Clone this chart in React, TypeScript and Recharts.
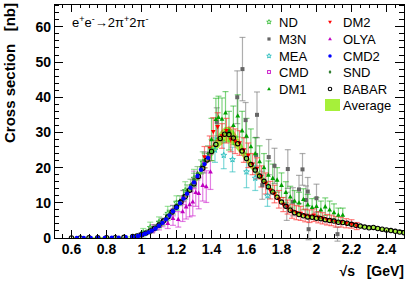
import { ComposedChart, Area, Scatter, ErrorBar, XAxis, YAxis, ReferenceArea } from 'recharts';

// e+e- -> 2pi+2pi- cross section compilation

const W = 415;
const H = 281;
const M_TOP = 4;
const M_RIGHT = 11;
const Y_W = 54;
const X_H = 43;
const PLOT_W = W - Y_W - M_RIGHT;
const PLOT_H = H - M_TOP - X_H;
const FONT = '"Liberation Sans", Arial, Helvetica, sans-serif';

const X_DOMAIN: [number, number] = [0.5, 2.5];
const Y_DOMAIN: [number, number] = [0, 66.5];
const X_LABELS = [0.6, 0.8, 1, 1.2, 1.4, 1.6, 1.8, 2, 2.2, 2.4];
const Y_LABELS = [0, 10, 20, 30, 40, 50, 60];

// average (band) and BABAR share the same energy grid
const avgX = [0.6, 0.65, 0.7, 0.75, 0.8, 0.85, 0.9, 0.95, 0.975, 1.0,
    1.025, 1.05, 1.075, 1.1, 1.125, 1.15, 1.175, 1.2, 1.225, 1.25,
    1.275, 1.3, 1.325, 1.35, 1.375, 1.4, 1.425, 1.45, 1.475, 1.5,
    1.525, 1.55, 1.575, 1.6, 1.625, 1.65, 1.675, 1.7, 1.725, 1.75,
    1.775, 1.8, 1.825, 1.85, 1.875, 1.9, 1.925, 1.95, 1.975, 2.0,
    2.025, 2.05, 2.075, 2.1, 2.125, 2.15, 2.175, 2.2, 2.225, 2.25,
    2.275, 2.3, 2.325, 2.35, 2.375, 2.4, 2.425, 2.45, 2.475, 2.5];
const avgY = [0, 0, 0.05, 0.05, 0.1, 0.1, 0.2, 0.4, 0.6, 0.9,
    1.4, 2.0, 2.8, 3.7, 4.8, 6.0, 7.5, 8.8, 10.2, 11.8,
    13.6, 15.5, 17.5, 19.8, 22.2, 24.5, 26.5, 28.2, 29.3, 29.4,
    28.5, 26.8, 24.8, 22.7, 20.8, 19.2, 17.6, 16.2, 14.7, 13.2,
    11.8, 10.3, 9.0, 8.0, 7.2, 6.6, 6.3, 6.0, 5.8, 5.6,
    5.4, 5.2, 5.0, 4.8, 4.6, 4.4, 4.1, 3.9, 3.6, 3.3,
    3.1, 2.9, 2.9, 2.7, 2.5, 2.3, 2.1, 1.9, 1.7, 1.5];
const avgErr = [0.15, 0.15, 0.15, 0.15, 0.15, 0.15, 0.15, 0.2, 0.2, 0.25,
    0.3, 0.3, 0.35, 0.4, 0.4, 0.45, 0.5, 0.55, 0.6, 0.65,
    0.7, 0.8, 0.9, 1.0, 1.2, 1.5, 1.8, 2.0, 2.2, 2.2,
    2.1, 1.9, 1.6, 1.3, 1.1, 1.0, 0.9, 0.8, 0.8, 0.7,
    0.7, 0.6, 0.6, 0.55, 0.55, 0.5, 0.5, 0.5, 0.5, 0.5,
    0.5, 0.5, 0.5, 0.5, 0.5, 0.5, 0.5, 0.5, 0.5, 0.5,
    0.5, 0.5, 0.5, 0.5, 0.5, 0.5, 0.5, 0.5, 0.5, 0.5];
const babarY = [0, 0, 0.05, 0.05, 0.1, 0.1, 0.2, 0.4, 0.6, 0.9,
    1.4, 2.0, 2.8, 3.7, 4.8, 6.0, 7.4, 8.8, 10.2, 11.8,
    13.6, 15.4, 17.5, 19.8, 22.2, 24.6, 26.6, 28.3, 29.5, 29.4,
    28.4, 26.8, 24.7, 22.6, 20.9, 19.3, 17.6, 16.1, 14.6, 13.1,
    11.6, 10.2, 9.0, 7.9, 7.2, 6.7, 6.3, 6.0, 5.9, 5.6,
    5.5, 5.2, 5.0, 4.8, 4.5, 4.4, 4.2, 3.9, 3.6, 3.4,
    3.1, 2.9, 3.0, 2.7, 2.5, 2.3, 2.1, 1.9, 1.7, 1.5];

const ndX = [1.01, 1.05, 1.1, 1.15, 1.2, 1.25, 1.3, 1.35, 1.4];
const ndY = [1.5, 3.0, 4.5, 7.0, 10.0, 13.5, 17.0, 21.5, 25.0];
const ndE = [1.2, 1.5, 1.5, 2.0, 2.0, 2.5, 2.5, 3.0, 3.0];

const m3nX = [1.43, 1.547, 1.577, 1.595, 1.655, 1.66, 1.69, 1.727, 1.76, 1.83, 1.836, 1.865, 1.9, 1.92, 1.94, 1.95, 1.955, 2.0, 2.12];
const m3nY = [33, 40, 48, 33.5, 23.6, 35, 15, 23, 20.5, 9, 19.6, 10.3, 13.8, 19.5, 10.8, 13.2, 2.5, 11.3, 1.1];
const m3nE = [4, 7.5, 9, 5, 5, 6.5, 4, 5, 5, 4, 5.5, 4, 4, 4.5, 4, 4, 3, 4, 2];

const meaX = [1.42, 1.47, 1.52, 1.6, 1.65, 1.72];
const meaY = [25, 23.5, 22.3, 18.8, 17, 12];
const meaE = [3.5, 3.8, 3.5, 4.5, 3.5, 3];

const cmdX = [1.0, 1.06, 1.12, 1.18, 1.24, 1.3, 1.36];
const cmdY = [0.9, 2.2, 4.4, 7.8, 11.5, 16.5, 21.5];
const cmdE = [0.5, 0.8, 1.2, 1.5, 2, 2.5, 3];

const dm1X = [1.4, 1.425, 1.44, 1.46, 1.48, 1.5, 1.525, 1.55, 1.575, 1.6, 1.625, 1.65, 1.675, 1.7, 1.725, 1.75,
    1.775, 1.8, 1.825, 1.85, 1.875, 1.9, 1.925, 1.95, 1.975, 2.0, 2.025, 2.05, 2.075, 2.1, 2.125, 2.15];
const dm1Y = [28, 33.7, 34.3, 33.8, 35.6, 30.5, 32, 34.7, 30.5, 29, 26, 24, 21.7, 20, 17.9, 17,
    16.5, 15, 13, 11.7, 10.5, 10, 11, 9.4, 8.7, 9, 8, 8.9, 8, 7.2, 6.5, 6.5];
const dm1E = [6, 6, 6, 6, 6, 5.5, 5.5, 6, 5.5, 5, 5, 4.5, 4.5, 4, 4, 4,
    3.5, 3.5, 3, 3, 3, 3, 3, 3, 2.5, 2.5, 2.5, 2.5, 2.5, 2.5, 2, 2];

const dm2X = [1.36, 1.39, 1.41, 1.435, 1.46, 1.485, 1.51, 1.535, 1.56, 1.585, 1.61, 1.635, 1.66, 1.685, 1.71, 1.735, 1.76, 1.785,
    1.81, 1.835, 1.86, 1.885, 1.91, 1.935, 1.96, 1.985, 2.01, 2.035, 2.06, 2.085, 2.11, 2.14, 2.17, 2.2, 2.23];
const dm2Y = [23, 25.5, 30.2, 31.6, 29, 30.5, 28, 27.5, 27, 25, 23.5, 21, 19.8, 17.5, 15.5, 13.6, 12.5, 11,
    9.5, 8.8, 7.6, 7.2, 7, 6.4, 6.2, 6.5, 5.9, 5.6, 5.2, 5.0, 4.6, 4.5, 4.2, 4.0, 3.4];
const dm2E = [3, 3.5, 4, 4, 3.5, 3.5, 3.5, 3.5, 3.5, 3.5, 3.5, 3, 3, 3, 3, 2.5, 2.5, 2.5,
    2, 2, 2, 2, 2, 1.8, 1.8, 1.8, 1.6, 1.6, 1.5, 1.5, 1.5, 1.4, 1.3, 1.2, 1];

const olyaX = [1.065, 1.1, 1.15, 1.18, 1.21, 1.235, 1.255, 1.275, 1.293, 1.31, 1.327, 1.35, 1.37, 1.394];
const olyaY = [2.8, 3.5, 4.2, 5.6, 5.3, 7.5, 8.9, 9.5, 10.3, 13, 12.7, 15, 14.6, 18.8];
const olyaE = [1, 1.2, 1.5, 2, 2.2, 2.8, 3.5, 3.5, 4, 4, 4.4, 4.5, 4.5, 5];

const cmd2X = [0.63, 0.67, 0.71, 0.75, 0.79, 0.83, 0.87, 0.91, 0.95, 0.98, 1.0, 1.02, 1.04, 1.06, 1.08,
    1.1, 1.12, 1.14, 1.16, 1.18, 1.2, 1.22, 1.24, 1.26, 1.28, 1.3, 1.32, 1.34, 1.36, 1.38];
const cmd2Y = [0, 0, 0, 0, 0, 0.1, 0.1, 0.2, 0.4, 0.6, 0.9, 1.2, 1.6, 2.1, 2.7,
    3.5, 4.3, 5.3, 6.4, 7.6, 8.7, 9.9, 11.2, 12.6, 14.3, 15.8, 17.6, 19.4, 21.0, 22.8];

const sndX = [0.98, 1.0, 1.02, 1.04, 1.06, 1.08, 1.1, 1.12, 1.14, 1.16, 1.18, 1.2, 1.22, 1.24, 1.26, 1.28, 1.3, 1.32, 1.34, 1.36, 1.38];
const sndY = [0.7, 1.0, 1.4, 1.8, 2.4, 3.0, 3.8, 4.6, 5.7, 6.8, 8.0, 9.2, 10.6, 12.0, 13.5, 15.0, 16.6, 18.4, 20.2, 22.0, 24.0];
const sndE = [0.4, 0.5, 0.5, 0.6, 0.7, 0.8, 0.9, 1.0, 1.0, 1.1, 1.2, 1.3, 1.4, 1.5, 1.6, 1.7, 1.8, 1.9, 2.0, 2.1, 2.2];

type Kind = 'star' | 'square' | 'squareOpen' | 'tri' | 'triDown' | 'dot' | 'diamond' | 'ring';

interface Series {
    name:  string;
    kind:  Kind;
    color: string;
    bar:   string;
    data:  Array<{ x: number; y: number; e: number }>;
}

function rows(xs: number[], ys: number[], es?: number[]) {
    return xs.map((x, i) => ({ x, y: ys[i], e: es ? es[i] : 0 }));
}

const avgRows = avgX.map((x, i) => ({ x, band: [avgY[i] - avgErr[i], avgY[i] + avgErr[i]] }));

// draw order: back to front
const SERIES: Series[] = [
    { name: 'M3N',   kind: 'square',     color: '#666666', bar: 'rgba(120,120,120,0.6)', data: rows(m3nX, m3nY, m3nE) },
    { name: 'DM1',   kind: 'tri',        color: '#00a000', bar: 'rgba(0,170,0,0.5)',     data: rows(dm1X, dm1Y, dm1E) },
    { name: 'MEA',   kind: 'star',       color: '#22bbbb', bar: 'rgba(40,190,190,0.6)',  data: rows(meaX, meaY, meaE) },
    { name: 'DM2',   kind: 'triDown',    color: '#ff0000', bar: 'rgba(255,40,40,0.6)',   data: rows(dm2X, dm2Y, dm2E) },
    { name: 'OLYA',  kind: 'tri',        color: '#c000c0', bar: 'rgba(200,0,200,0.5)',   data: rows(olyaX, olyaY, olyaE) },
    { name: 'CMD',   kind: 'squareOpen', color: '#cc22cc', bar: 'rgba(200,40,200,0.5)',  data: rows(cmdX, cmdY, cmdE) },
    { name: 'ND',    kind: 'star',       color: '#33bb33', bar: 'rgba(60,200,60,0.5)',   data: rows(ndX, ndY, ndE) },
    { name: 'SND',   kind: 'diamond',    color: '#2a7a2a', bar: 'rgba(60,160,60,0.5)',   data: rows(sndX, sndY, sndE) },
];

const TOP_SERIES: Series[] = [
    { name: 'BABAR', kind: 'ring', color: '#000000', bar: 'none', data: rows(avgX, babarY) },
    { name: 'CMD2',  kind: 'dot',  color: '#0000ff', bar: 'none', data: rows(cmd2X, cmd2Y) },
];

const LEGEND: Array<{ name: string; kind: Kind; color: string }> = [
    { name: 'ND',    kind: 'star',       color: '#33bb33' },
    { name: 'M3N',   kind: 'square',     color: '#666666' },
    { name: 'MEA',   kind: 'star',       color: '#22bbbb' },
    { name: 'CMD',   kind: 'squareOpen', color: '#cc22cc' },
    { name: 'DM1',   kind: 'tri',        color: '#00a000' },
    { name: 'DM2',   kind: 'triDown',    color: '#ff0000' },
    { name: 'OLYA',  kind: 'tri',        color: '#c000c0' },
    { name: 'CMD2',  kind: 'dot',        color: '#0000ff' },
    { name: 'SND',   kind: 'diamond',    color: '#2a7a2a' },
    { name: 'BABAR', kind: 'ring',       color: '#000000' },
];

const AVG_COLOR = '#a6f03a';

const xTicks: number[] = [];
for (let i = 0; i <= 40; i++) xTicks.push(Math.round((0.5 + i * 0.05) * 100) / 100);
const yTicks: number[] = [];
for (let v = 0; v <= 66; v += 2) yTicks.push(v);

function Marker({ kind, cx, cy, color, s = 1 }: { kind: Kind; cx?: number; cy?: number; color: string; s?: number }) {
    if (cx == null || cy == null) return null;
    switch (kind) {
        case 'star': {
            const pts: string[] = [];
            for (let k = 0; k < 10; k++) {
                const r = (k % 2 ? 1.3 : 3.0) * s;
                const a = -Math.PI / 2 + (k * Math.PI) / 5;
                pts.push(`${cx + r * Math.cos(a)},${cy + r * Math.sin(a)}`);
            }
            return <polygon points={pts.join(' ')} fill="none" stroke={color} strokeWidth={0.9} />;
        }
        case 'square':
            return <rect x={cx - 2 * s} y={cy - 2 * s} width={4 * s} height={4 * s} fill={color} />;
        case 'squareOpen':
            return <rect x={cx - 1.8 * s} y={cy - 1.8 * s} width={3.6 * s} height={3.6 * s} fill="none" stroke={color} strokeWidth={1} />;
        case 'tri':
            return <polygon points={`${cx},${cy - 2.6 * s} ${cx + 2.4 * s},${cy + 1.7 * s} ${cx - 2.4 * s},${cy + 1.7 * s}`} fill={color} />;
        case 'triDown':
            return <polygon points={`${cx},${cy + 2.6 * s} ${cx + 2.4 * s},${cy - 1.7 * s} ${cx - 2.4 * s},${cy - 1.7 * s}`} fill={color} />;
        case 'dot':
            return <circle cx={cx} cy={cy} r={2.2 * s} fill={color} />;
        case 'diamond':
            return <polygon points={`${cx},${cy - 2.4 * s} ${cx + 1.8 * s},${cy} ${cx},${cy + 2.4 * s} ${cx - 1.8 * s},${cy}`} fill={color} />;
        case 'ring':
            return <circle cx={cx} cy={cy} r={2.2 * s} fill="none" stroke={color} strokeWidth={1.1} />;
    }
    return null;
}

function isMajorX(v: number) {
    return Math.abs(v * 5 - Math.round(v * 5)) < 1e-6;
}

function XTick(props: any) {
    const { x, y, payload } = props;
    const v: number = payload.value;
    const major = isMajorX(v);
    const len = major ? 8 : 4;
    const showLabel = X_LABELS.some((l) => Math.abs(l - v) < 1e-6);
    return (
        <g>
            <line x1={x} x2={x} y1={y} y2={y - len} stroke="#000" shapeRendering="crispEdges" />
            <line x1={x} x2={x} y1={y - PLOT_H} y2={y - PLOT_H + len} stroke="#000" shapeRendering="crispEdges" />
            {showLabel && (
                <text x={x} y={y + 16} textAnchor="middle" fontFamily={FONT} fontSize={14} fontWeight="bold" fill="#000">
                    {String(Math.round(v * 10) / 10)}
                </text>
            )}
        </g>
    );
}

function YTick(props: any) {
    const { x, y, payload } = props;
    const v: number = payload.value;
    const major = v % 10 === 0;
    const len = major ? 9 : 5;
    return (
        <g>
            <line x1={x} x2={x + len} y1={y} y2={y} stroke="#000" shapeRendering="crispEdges" />
            <line x1={x + PLOT_W} x2={x + PLOT_W - len} y1={y} y2={y} stroke="#000" shapeRendering="crispEdges" />
            {Y_LABELS.includes(v) && (
                <text x={x - 3} y={y + 5} textAnchor="end" fontFamily={FONT} fontSize={14} fontWeight="bold" fill="#000">
                    {v}
                </text>
            )}
        </g>
    );
}

function renderSeries(s: Series) {
    return (
        <Scatter
            key={s.name}
            name={s.name}
            data={s.data}
            dataKey="y"
            isAnimationActive={false}
            shape={(p: any) => <Marker kind={s.kind} cx={p.cx} cy={p.cy} color={s.color} />}
        >
            {s.bar !== 'none' && (
                <ErrorBar dataKey="e" direction="y" width={3} stroke={s.bar} strokeWidth={1.2} isAnimationActive={false} />
            )}
        </Scatter>
    );
}

function LegendOverlay() {
    const rowsY = [22, 39, 56, 72, 89];
    return (
        <svg width={W} height={H} style={{ position: 'absolute', left: 0, top: 0, pointerEvents: 'none' }} fontFamily={FONT}>
            <text x={72} y={27} fontSize={13} fill="#000">
                e<tspan dy={-5} fontSize={9}>+</tspan>
                <tspan dy={5}>e</tspan>
                <tspan dy={-5} fontSize={9}>-</tspan>
                <tspan dy={5}>→2π</tspan>
                <tspan dy={-5} fontSize={9}>+</tspan>
                <tspan dy={5}>2π</tspan>
                <tspan dy={-5} fontSize={9}>-</tspan>
            </text>
            <text
                transform="translate(15,3) rotate(-90)"
                textAnchor="end"
                fontSize={15}
                fontWeight="bold"
                fill="#000"
                style={{ whiteSpace: 'pre' }}
            >
                Cross section   [nb]
            </text>
            <text x={404} y={276} textAnchor="end" fontSize={14} fontWeight="bold" fill="#000" style={{ whiteSpace: 'pre' }}>
                √s   [GeV]
            </text>
            {LEGEND.map((l, i) => {
                const col = i < 5 ? 0 : 1;
                const cy = rowsY[i % 5];
                const mx = col === 0 ? 269 : 330;
                const tx = col === 0 ? 279 : 343;
                return (
                    <g key={l.name}>
                        <Marker kind={l.kind} cx={mx} cy={cy} color={l.color} s={0.8} />
                        <text x={tx} y={cy + 5} fontSize={13} fill="#000">{l.name}</text>
                    </g>
                );
            })}
            <rect x={325} y={99} width={15} height={12} fill={AVG_COLOR} />
            <text x={343} y={110} fontSize={13} fill="#000">Average</text>
        </svg>
    );
}

export default function App() {
    return (
        <div style={{ position: 'absolute', left: 0, top: 0, width: W, height: H, background: '#fff' }}>
            <ComposedChart
                width={W}
                height={H}
                data={avgRows}
                margin={{ top: M_TOP, right: M_RIGHT, left: 0, bottom: 0 }}
            >
                <XAxis
                    dataKey="x"
                    type="number"
                    domain={X_DOMAIN}
                    ticks={xTicks}
                    interval={0}
                    tick={(p: any) => <XTick {...p} />}
                    tickLine={false}
                    axisLine={false}
                    tickSize={0}
                    tickMargin={0}
                    height={X_H}
                    allowDataOverflow
                />
                <YAxis
                    type="number"
                    domain={Y_DOMAIN}
                    ticks={yTicks}
                    interval={0}
                    tick={(p: any) => <YTick {...p} />}
                    tickLine={false}
                    axisLine={false}
                    tickSize={0}
                    tickMargin={0}
                    width={Y_W}
                    allowDataOverflow
                />
                {SERIES.map(renderSeries)}
                <Area
                    dataKey="band"
                    type="linear"
                    stroke="none"
                    fill={AVG_COLOR}
                    fillOpacity={1}
                    dot={false}
                    activeDot={false}
                    isAnimationActive={false}
                />
                {TOP_SERIES.map(renderSeries)}
                <ReferenceArea
                    x1={X_DOMAIN[0]}
                    x2={X_DOMAIN[1]}
                    y1={Y_DOMAIN[0]}
                    y2={Y_DOMAIN[1]}
                    fill="none"
                    stroke="#000"
                    strokeWidth={1}
                    shapeRendering="crispEdges"
                />
            </ComposedChart>
            <LegendOverlay />
        </div>
    );
}
